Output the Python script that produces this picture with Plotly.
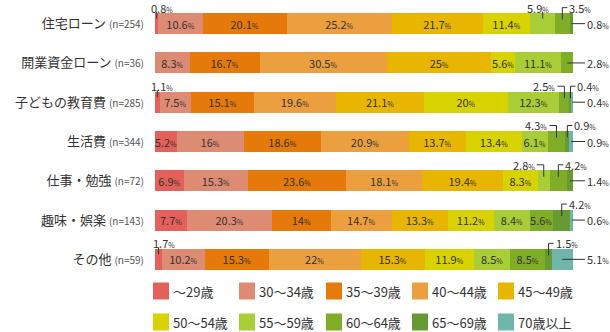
import plotly.graph_objects as go

categories = ["住宅ローン", "開業資金ローン", "子どもの教育費", "生活費", "仕事・勉強", "趣味・娯楽", "その他"]
n_counts = [254, 36, 285, 344, 72, 143, 59]
age_groups = ["～29歳", "30～34歳", "35～39歳", "40～44歳", "45～49歳",
              "50～54歳", "55～59歳", "60～64歳", "65～69歳", "70歳以上"]

age_u29 = [0.8, 0, 1.1, 5.2, 6.9, 7.7, 1.7]
age_30_34 = [10.6, 8.3, 7.5, 16, 15.3, 20.3, 10.2]
age_35_39 = [20.1, 16.7, 15.1, 18.6, 23.6, 14, 15.3]
age_40_44 = [25.2, 30.5, 19.6, 20.9, 18.1, 14.7, 22]
age_45_49 = [21.7, 25, 21.1, 13.7, 19.4, 13.3, 15.3]
age_50_54 = [11.4, 5.6, 20, 13.4, 8.3, 11.2, 11.9]
age_55_59 = [5.9, 11.1, 12.3, 6.1, 2.8, 8.4, 8.5]
age_60_64 = [3.5, 2.8, 2.5, 4.3, 4.2, 5.6, 8.5]
age_65_69 = [0.8, 0, 0.4, 0.9, 1.4, 4.2, 1.5]
age_70up = [0, 0, 0.4, 0.9, 0, 0.6, 5.1]

series = [age_u29, age_30_34, age_35_39, age_40_44, age_45_49,
          age_50_54, age_55_59, age_60_64, age_65_69, age_70up]

colors = ["#E3615A", "#DE8B74", "#E5790A", "#EC9F3E", "#E8B500",
          "#D8D200", "#A9CD36", "#7FAD27", "#689A34", "#6FB5AA"]

# label placement for small segments: (row, group, kind, dx)
outside = [
    (0, 0, "top", 5), (0, 6, "top", -5), (0, 7, "tr", 0), (0, 8, "right", 0),
    (1, 7, "right", 0),
    (2, 0, "top", 5), (2, 7, "tl", 0), (2, 8, "tr", 0), (2, 9, "right", 0),
    (3, 7, "tl", 0), (3, 8, "tr", 0), (3, 9, "right", 0),
    (4, 6, "tl", 0), (4, 7, "tr", 0), (4, 8, "right", 0),
    (5, 8, "tr", 0), (5, 9, "right", 0),
    (6, 0, "top", 5), (6, 8, "tr", 0), (6, 9, "right", 0),
]
outside_set = {(r, g) for r, g, _, _ in outside}

W, H = 610, 332
ML, MR, MT, MB = 155, 37, 4, 53
PW, PH = W - ML - MR, H - MT - MB
nrows = len(categories)
FONT = "Noto Sans CJK JP, Noto Sans, sans-serif"
TXT = "#333333"


def fmt(v):
    s = ("%g" % v)
    return s + "<span style='font-size:7px'>%</span>"


def px2x(px):
    return (px - ML) / PW


def px2y(py):
    return (H - MB - py) / PH


fig = go.Figure()
ypos = list(range(nrows))
for g, (name, vals, col) in enumerate(zip(age_groups, series, colors)):
    texts = []
    for r, v in enumerate(vals):
        if v > 0 and (r, g) not in outside_set:
            texts.append(fmt(v))
        else:
            texts.append("")
    fig.add_trace(go.Bar(
        y=ypos, x=vals, name=name, orientation="h",
        marker=dict(color=col, line=dict(width=0)),
        text=texts, textposition="inside", insidetextanchor="middle",
        textangle=0, textfont=dict(size=11, color=TXT, family=FONT),
        hoverinfo="skip", showlegend=False,
    ))

shapes = []
annotations = []
row_h = PH / nrows
LINE = dict(color="#333333", width=1)

for r, g, kind, dx in outside:
    v = series[g][r]
    cum = sum(series[k][r] for k in range(g))
    cx = ML + (cum + v / 2) / 100 * PW
    cy = MT + (r + 0.5) * row_h
    ly = cy - 16
    if kind == "top":
        shapes.append(dict(type="line", xref="paper", yref="paper",
                           x0=px2x(cx), x1=px2x(cx), y0=px2y(cy - 12), y1=px2y(cy - 5), line=LINE))
        annotations.append(dict(xref="paper", yref="paper", x=px2x(cx + dx), y=px2y(ly),
                                text=fmt(v), showarrow=False, xanchor="center", yanchor="middle",
                                font=dict(size=11, color=TXT, family=FONT)))
    elif kind == "tr":
        path = "M %f %f L %f %f L %f %f" % (px2x(cx), px2y(cy - 4), px2x(cx), px2y(ly), px2x(cx + 5), px2y(ly))
        shapes.append(dict(type="path", xref="paper", yref="paper", path=path, line=LINE))
        annotations.append(dict(xref="paper", yref="paper", x=px2x(cx + 5), y=px2y(ly),
                                text=fmt(v), showarrow=False, xanchor="left", yanchor="middle",
                                font=dict(size=11, color=TXT, family=FONT)))
    elif kind == "tl":
        path = "M %f %f L %f %f L %f %f" % (px2x(cx), px2y(cy - 4), px2x(cx), px2y(ly), px2x(cx - 7), px2y(ly))
        shapes.append(dict(type="path", xref="paper", yref="paper", path=path, line=LINE))
        annotations.append(dict(xref="paper", yref="paper", x=px2x(cx - 7), y=px2y(ly),
                                text=fmt(v), showarrow=False, xanchor="right", yanchor="middle",
                                font=dict(size=11, color=TXT, family=FONT)))
    elif kind == "right":
        shapes.append(dict(type="line", xref="paper", yref="paper",
                           x0=px2x(cx), x1=px2x(585), y0=px2y(cy), y1=px2y(cy), line=LINE))
        annotations.append(dict(xref="paper", yref="paper", x=px2x(585), y=px2y(cy),
                                text=fmt(v), showarrow=False, xanchor="left", yanchor="middle",
                                font=dict(size=11, color=TXT, family=FONT)))

# legend (5 per row)
leg_x = [153, 239, 326, 412, 498]
leg_y = [291, 322]
for i, (name, col) in enumerate(zip(age_groups, colors)):
    lx = leg_x[i % 5]
    lyc = leg_y[i // 5]
    shapes.append(dict(type="rect", xref="paper", yref="paper",
                       x0=px2x(lx), x1=px2x(lx + 16), y0=px2y(lyc - 8.5), y1=px2y(lyc + 8.5),
                       fillcolor=col, line=dict(width=0)))
    annotations.append(dict(xref="paper", yref="paper", x=px2x(lx + 18), y=px2y(lyc),
                            text=name, showarrow=False, xanchor="left", yanchor="middle",
                            font=dict(size=13, color=TXT, family=FONT)))

ticktext = ["%s <span style='font-size:10px;fill:#555'>(n=%d)</span>" % (c, n)
            for c, n in zip(categories, n_counts)]

fig.update_layout(
    width=W, height=H, margin=dict(l=ML, r=MR, t=MT, b=MB),
    barmode="stack", bargap=0.466,
    plot_bgcolor="white", paper_bgcolor="white",
    font=dict(family=FONT, color=TXT),
    uniformtext=dict(minsize=11, mode="show"),
    xaxis=dict(range=[0, 100], visible=False, fixedrange=True),
    yaxis=dict(range=[nrows - 0.5, -0.5], tickvals=ypos, ticktext=ticktext,
               showgrid=False, zeroline=False, showline=False, ticks="",
               ticklabelstandoff=10, tickfont=dict(size=13, color=TXT, family=FONT)),
    shapes=shapes, annotations=annotations,
)

fig.write_html("out.html")
